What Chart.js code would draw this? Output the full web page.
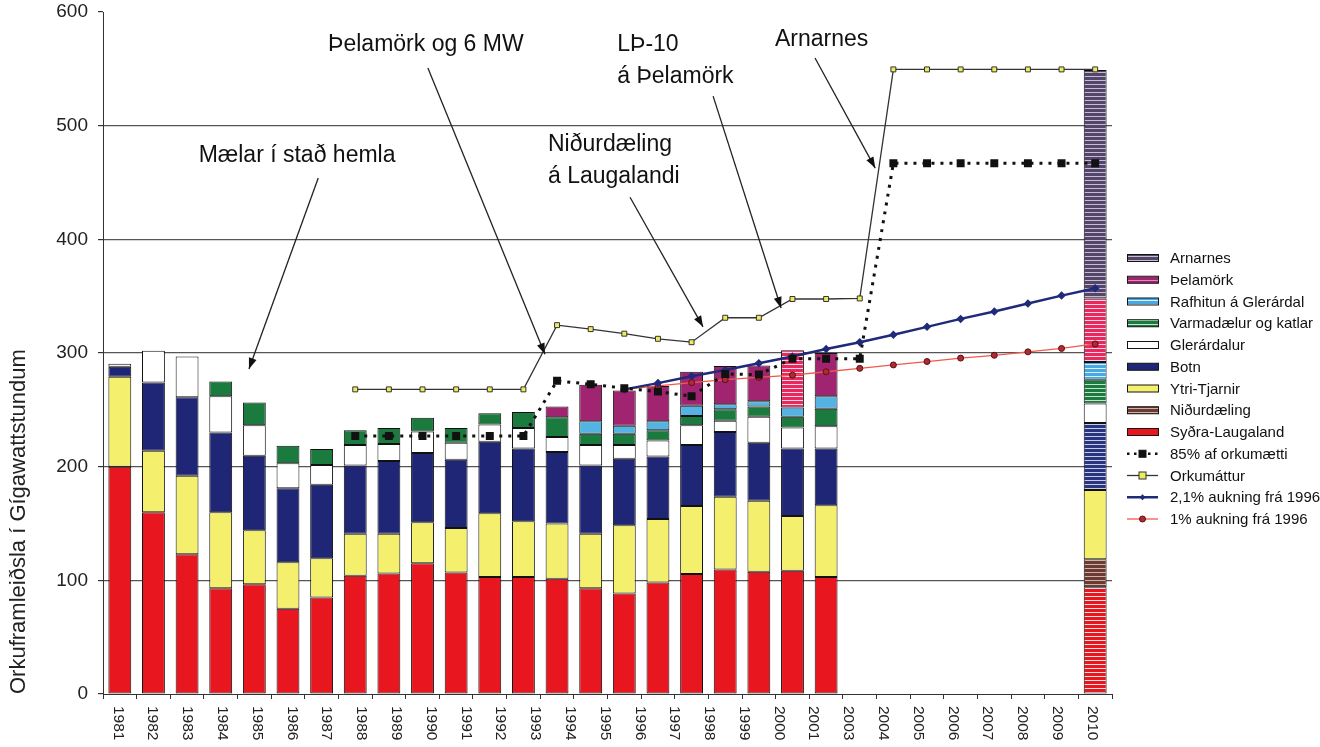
<!DOCTYPE html>
<html><head><meta charset="utf-8">
<script src="https://cdn.jsdelivr.net/npm/chart.js@4.4.0/dist/chart.umd.min.js"></script>
<style>html,body{margin:0;padding:0;background:#fff;}canvas{display:block}</style>
</head><body>
<canvas id="c" width="1320" height="747"></canvas>
<script>
const N = null;
const categories = ['1981','1982','1983','1984','1985','1986','1987','1988','1989','1990','1991','1992','1993','1994','1995','1996','1997','1998','1999','2000','2001','2002','2003','2004','2005','2006','2007','2008','2009','2010'];
const tickLabels = ['1981','1982','1983','1984','1985','1986','1987','1988','1989','1990','1991','1992','1993','1994','1995','1996','1997','1998','1999','2000','2001','2003','2004','2005','2006','2007','2008','2009','2010'];
const yTicks = [0,100,200,300,400,500,600];

const sydraLaugaland = [200,160,123,93,96.5,75,85,104,106,115,107,103,103,101.5,93,88.5,98,105.5,109.5,107.5,108.5,103,N,N,N,N,N,N,N,94];
const nidurdaeling   = [N,N,N,N,N,N,N,N,N,N,N,N,N,N,N,N,N,N,N,N,N,N,N,N,N,N,N,N,N,24.5];
const ytriTjarnir    = [79,54,69,67,47.5,41,34.5,37,35,36,39,56,49,48.5,48,60,56,60,64,62.5,48,63,N,N,N,N,N,N,N,61];
const botn           = [9,60,69,70,65.5,65,64.5,60,64,61,60,63,64,63,60,58.5,55,53.5,57,51,59.5,50,N,N,N,N,N,N,N,59];
const glerardalur    = [2.5,28,36,32,27,22,17.5,18,15,19,15,15,18,13,18,12,14,17.5,10,23,18.5,19.5,N,N,N,N,N,N,N,17];
const varmadaelur    = [N,N,N,13,20,15.5,14,13,14,12,13,10,14,17.5,10,10,9,8,10,9,9.5,15.5,N,N,N,N,N,N,N,21];
const rafhitun       = [N,N,N,N,N,N,N,N,N,N,N,N,N,N,11,7,8,9,4.5,4.5,8,11,N,N,N,N,N,N,N,15.5];
const thelamork      = [N,N,N,N,N,N,N,N,N,N,N,N,N,9.5,32,31,31,30,33.5,31.5,50.5,38,N,N,N,N,N,N,N,56];
const arnarnes       = [N,N,N,N,N,N,N,N,N,N,N,N,N,N,N,N,N,N,N,N,N,N,N,N,N,N,N,N,N,201];

const orka85     = [N,N,N,N,N,N,N,227,227,227,227,227,227,275.5,272.5,269,266,262,281.5,281,295,295,295,467,467,467,467,467,467,467];
const orkumattur = [N,N,N,N,N,N,N,268,268,268,268,268,268,324.5,321,317,312.5,309.5,331,331,347.5,347.5,348,549.5,549.5,549.5,549.5,549.5,549.5,549.5];
const aukning21  = [N,N,N,N,N,N,N,N,N,N,N,N,N,N,N,268,273.5,279.5,285,291,297,303.5,309.5,316,323,330,336.5,343.5,350.5,357];
const aukning1   = [N,N,N,N,N,N,N,N,N,N,N,N,N,N,N,268,271,274,276.5,278.5,280.5,283.5,286.5,289.5,292.5,295.5,298,301,304,308];

function hatch(base, stripe, period, sw) {
  const c = document.createElement('canvas');
  c.width = 4; c.height = period;
  const g = c.getContext('2d');
  g.fillStyle = base; g.fillRect(0, 0, 4, period);
  g.fillStyle = stripe; g.fillRect(0, 0, 4, sw);
  return g.createPattern(c, 'repeat');
}
const RED = '#e8161e', YEL = '#f4ef6c', NAVY = '#1f2676', GREEN = '#1b7a3e', LBLUE = '#55b3e3', MAG = '#a0246f';
const P_RED = hatch('#e8161e', '#ffe0e0', 4, 1);
const P_PURP = hatch('#54466a', '#c6bcd2', 4, 1);
const P_PINK = hatch('#e8285e', '#fcd6e0', 4, 1);
const P_MAG = hatch('#a0246f', '#d98ab8', 4, 1);
const P_BLUE = hatch('#4aa8e0', '#d8efff', 4, 1);
const P_GREEN = hatch('#1b7a3e', '#c4e2cc', 4, 1);
const P_NAVY = hatch('#2a3580', '#c8cce8', 4, 1);
const P_BROWN = hatch('#6a3a33', '#cfb1a8', 4, 1);

function barDs(label, data, solid, hatched, legendFill, extra) {
  return Object.assign({
    type: 'bar', label, data, stack: 'bars', order: 1,
    backgroundColor: (c) => (c.dataIndex === 29 ? hatched : solid),
    borderColor: '#111', borderWidth: 1, borderSkipped: false,
    legendFill
  }, extra || {});
}

const datasets = [
  barDs('Syðra-Laugaland', sydraLaugaland, RED, P_RED, RED),
  barDs('Niðurdæling', nidurdaeling, P_BROWN, P_BROWN, P_BROWN),
  barDs('Ytri-Tjarnir', ytriTjarnir, YEL, YEL, YEL),
  barDs('Botn', botn, NAVY, P_NAVY, NAVY),
  barDs('Glerárdalur', glerardalur, '#ffffff', '#ffffff', '#ffffff'),
  barDs('Varmadælur og katlar', varmadaelur, GREEN, P_GREEN, P_GREEN),
  barDs('Rafhitun á Glerárdal', rafhitun, LBLUE, P_BLUE, P_BLUE),
  barDs('Þelamörk', thelamork, MAG, P_PINK, P_MAG, {
    backgroundColor: (c) => (c.dataIndex === 29 || c.dataIndex === 20 ? P_PINK : MAG)
  }),
  barDs('Arnarnes', arnarnes, P_PURP, P_PURP, P_PURP),
  { type: 'line', label: '85% af orkumætti', data: orka85, stack: 's85', order: 0,
    borderColor: '#111', borderWidth: 3, borderDash: [3, 6], pointStyle: 'rect', pointRadius: 3.5,
    pointBackgroundColor: '#111', pointBorderColor: '#111', spanGaps: false, tension: 0 },
  { type: 'line', label: 'Orkumáttur', data: orkumattur, stack: 'sOrk', order: 0,
    borderColor: '#333', borderWidth: 1.3, pointStyle: 'rect', pointRadius: 3.5,
    pointBackgroundColor: '#eeec5a', pointBorderColor: '#333', pointBorderWidth: 1, tension: 0 },
  { type: 'line', label: '2,1% aukning frá 1996', data: aukning21, stack: 's21', order: 0,
    borderColor: '#1f2a7a', borderWidth: 2.5, pointStyle: 'rectRot', pointRadius: 2.5,
    pointBackgroundColor: '#1f2a7a', pointBorderColor: '#1f2a7a', tension: 0 },
  { type: 'line', label: '1% aukning frá 1996', data: aukning1, stack: 's1', order: 0,
    borderColor: '#f05a4a', borderWidth: 1.3, pointStyle: 'circle', pointRadius: 3,
    pointBackgroundColor: '#b02a34', pointBorderColor: '#5a1010', pointBorderWidth: 1, tension: 0 }
];

const annotations = [
  { lines: ['Mælar í stað hemla'], at: [5.27, 474], align: 'center', arrow: [[5.9, 454], [3.84, 286]] },
  { lines: ['Þelamörk og 6 MW'], at: [9.1, 571], align: 'center', arrow: [[9.16, 550.7], [12.64, 299]] },
  { lines: ['LÞ-10', 'á Þelamörk'], at: [14.79, 571], align: 'left', arrow: [[17.64, 526], [19.66, 339.6]] },
  { lines: ['Niðurdæling', 'á Laugalandi'], at: [12.73, 483], align: 'left', arrow: [[15.17, 437], [17.34, 323]] },
  { lines: ['Arnarnes'], at: [19.48, 575.3], align: 'left', arrow: [[20.67, 559.5], [22.46, 462.7]] }
];

function arrow(ctx, x1, y1, x2, y2) {
  ctx.beginPath(); ctx.moveTo(x1, y1); ctx.lineTo(x2, y2); ctx.stroke();
  const a = Math.atan2(y2 - y1, x2 - x1), L = 11, w = 4;
  ctx.beginPath(); ctx.moveTo(x2, y2);
  ctx.lineTo(x2 - L * Math.cos(a) + w * Math.sin(a), y2 - L * Math.sin(a) - w * Math.cos(a));
  ctx.lineTo(x2 - L * Math.cos(a) - w * Math.sin(a), y2 - L * Math.sin(a) + w * Math.cos(a));
  ctx.closePath(); ctx.fill();
}

const extras = {
  id: 'extras',
  afterDraw(chart) {
    const ctx = chart.ctx, xs = chart.scales.x, ys = chart.scales.y, x2 = chart.scales.x2;
    ctx.save();
    ctx.font = '15.5px "Liberation Sans", Arial, sans-serif';
    ctx.fillStyle = '#222';
    ctx.textAlign = 'left'; ctx.textBaseline = 'middle';
    tickLabels.forEach((t, k) => {
      const x = x2.getPixelForTick(k) - 2.5;
      ctx.save(); ctx.translate(x, xs.top + 12); ctx.rotate(Math.PI / 2); ctx.fillText(t, 0, 0); ctx.restore();
    });
    ctx.font = '23px "Liberation Sans", Arial, sans-serif';
    ctx.fillStyle = '#111'; ctx.strokeStyle = '#222'; ctx.lineWidth = 1.3;
    ctx.textBaseline = 'middle';
    annotations.forEach(a => {
      ctx.textAlign = a.align;
      const x = xs.getPixelForValue(a.at[0]);
      let y = ys.getPixelForValue(a.at[1]);
      a.lines.forEach((l, i) => ctx.fillText(l, x, y + i * 32));
      const p = a.arrow;
      arrow(ctx, xs.getPixelForValue(p[0][0]), ys.getPixelForValue(p[0][1]), xs.getPixelForValue(p[1][0]), ys.getPixelForValue(p[1][1]));
    });
    const lx = chart.chartArea.right + 15, ly0 = 258, step = 21.75, sw = 31;
    ctx.font = '15px "Liberation Sans", Arial, sans-serif';
    ctx.textAlign = 'left'; ctx.textBaseline = 'middle';
    const bars = chart.data.datasets.filter(d => d.type === 'bar').slice().reverse();
    const lines = chart.data.datasets.filter(d => d.type === 'line');
    let row = 0;
    bars.forEach(d => {
      const y = ly0 + row * step;
      ctx.fillStyle = d.legendFill; ctx.fillRect(lx, y - 3.5, sw, 7);
      ctx.strokeStyle = '#151515'; ctx.lineWidth = 1; ctx.strokeRect(lx + 0.5, y - 3.5, sw, 7);
      ctx.fillStyle = '#111'; ctx.fillText(d.label, lx + 43, y + 1);
      row++;
    });
    lines.forEach(d => {
      const y = ly0 + row * step;
      ctx.save();
      ctx.strokeStyle = d.borderColor; ctx.lineWidth = Math.min(d.borderWidth, 2.5);
      if (d.borderDash) ctx.setLineDash([2.5, 4.5]);
      ctx.beginPath(); ctx.moveTo(lx, y); ctx.lineTo(lx + sw, y); ctx.stroke();
      ctx.setLineDash([]);
      ctx.fillStyle = d.pointBackgroundColor; ctx.strokeStyle = d.pointBorderColor; ctx.lineWidth = 1;
      const cx = lx + sw / 2;
      if (d.pointStyle === 'rect') { ctx.fillRect(cx - 3.5, y - 3.5, 7, 7); ctx.strokeRect(cx - 3.5, y - 3.5, 7, 7); }
      else if (d.pointStyle === 'rectRot') { ctx.beginPath(); ctx.moveTo(cx, y - 3); ctx.lineTo(cx + 3, y); ctx.lineTo(cx, y + 3); ctx.lineTo(cx - 3, y); ctx.closePath(); ctx.fill(); }
      else { ctx.beginPath(); ctx.arc(cx, y, 3, 0, Math.PI * 2); ctx.fill(); ctx.stroke(); }
      ctx.restore();
      ctx.fillStyle = '#111'; ctx.fillText(d.label, lx + 43, y + 1);
      row++;
    });
    ctx.restore();
  }
};

new Chart(document.getElementById('c'), {
  type: 'bar',
  data: { labels: categories, datasets },
  options: {
    responsive: false, animation: false, devicePixelRatio: 1,
    layout: { padding: { top: 12, right: 208, bottom: 0, left: 0 } },
    datasets: { bar: { categoryPercentage: 1, barPercentage: 0.68 } },
    plugins: { legend: { display: false }, tooltip: { enabled: false } },
    scales: {
      x: {
        stacked: true, offset: true,
        grid: { display: true, drawOnChartArea: false, drawTicks: true, tickLength: 5, color: '#333', offset: true },
        border: { display: true, color: '#333', width: 1 },
        ticks: { display: false },
        afterFit(s) { s.height = 53; s.paddingLeft = 0; s.paddingRight = 0; }
      },
      x2: { type: 'category', labels: tickLabels, offset: true, display: false },
      y: {
        stacked: true, min: 0, max: 600,
        afterBuildTicks(s) { s.ticks = yTicks.map(v => ({ value: v })); },
        ticks: { color: '#222', padding: 10, font: { size: 19, family: '"Liberation Sans", Arial, sans-serif' } },
        grid: {
          color: (c) => (c.tick && (c.tick.value === 0 || c.tick.value === 600) ? 'rgba(0,0,0,0)' : '#555'),
          tickColor: '#333', tickLength: 5, lineWidth: 1.2
        },
        border: { display: true, color: '#333', width: 1 },
        title: {
          display: true, text: 'Orkuframleiðsla í Gígawattstundum', align: 'start', color: '#222',
          font: { size: 22, family: '"Liberation Sans", Arial, sans-serif' }, padding: { top: 6, bottom: 0 }
        },
        afterFit(s) { s.width = 103; s.paddingTop = 0; s.paddingBottom = 0; }
      }
    }
  },
  plugins: [extras]
});
</script>
</body></html>
